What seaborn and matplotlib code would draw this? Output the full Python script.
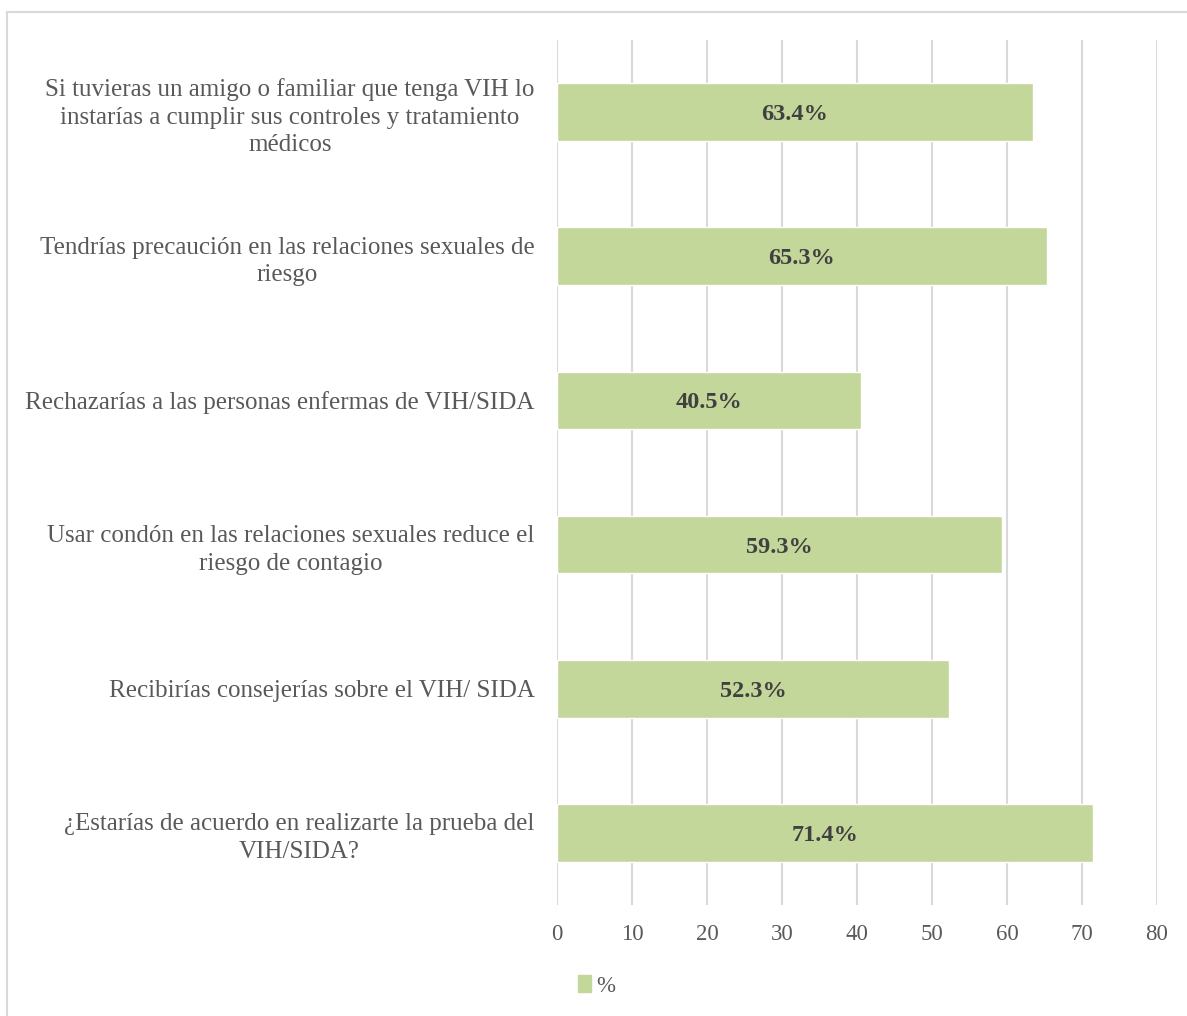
import matplotlib
matplotlib.use("Agg")
import matplotlib.pyplot as plt
import matplotlib.patches as mpatches
import seaborn as sns
import pandas as pd

categories = [
    "Si tuvieras un amigo o familiar que tenga VIH lo\ninstarías a cumplir sus controles y tratamiento\nmédicos",
    "Tendrías precaución en las relaciones sexuales de\nriesgo",
    "Rechazarías a las personas enfermas de VIH/SIDA",
    "Usar condón en las relaciones sexuales reduce el\nriesgo de contagio",
    "Recibirías consejerías sobre el VIH/ SIDA",
    "¿Estarías de acuerdo en realizarte la prueba del\nVIH/SIDA?",
]
values = [63.4, 65.3, 40.5, 59.3, 52.3, 71.4]
series_name = "%"
x_ticks = [0, 10, 20, 30, 40, 50, 60, 70, 80]

bar_color = "#C4D79B"
grid_color = "#D9D9D9"
tick_color = "#595959"
label_color = "#404040"

sns.set_style("white")
plt.rcParams["font.family"] = ["Liberation Serif", "DejaVu Serif"]

df = pd.DataFrame({"cat": categories, "val": values})

fig = plt.figure(figsize=(11.87, 10.16), dpi=100)
ax = fig.add_axes([557 / 1187, 1 - 905 / 1016, 600 / 1187, 865 / 1016])

sns.barplot(data=df, x="val", y="cat", orient="h", color=bar_color,
            width=0.4, saturation=1, ax=ax, zorder=3)

ax.set_xlim(0, 80)
ax.set_ylim(5.5, -0.5)
ax.set_xticks(x_ticks)
ax.set_xticklabels([str(t) for t in x_ticks])
ax.set_xlabel("")
ax.set_ylabel("")

for t in x_ticks:
    ax.axvline(t, color=grid_color, lw=1.5, zorder=1)

for s in ax.spines.values():
    s.set_visible(False)

ax.tick_params(axis="x", length=0, pad=14, labelsize=16.5, labelcolor=tick_color)
ax.tick_params(axis="y", length=0, pad=16, labelsize=18, labelcolor=tick_color)
for lbl in ax.get_yticklabels():
    lbl.set_multialignment("center")
    lbl.set_linespacing(1.33)

for i, v in enumerate(values):
    ax.text(v / 2, i, f"{v}%", ha="center", va="center_baseline", fontsize=17.5,
            fontweight="bold", color=label_color, zorder=4)

handle = mpatches.Patch(color=bar_color, label=series_name)
fig.legend(handles=[handle], loc="center", bbox_to_anchor=(597 / 1187, 1 - 986 / 1016),
           frameon=False, fontsize=16.5, handlelength=0.55, handleheight=0.7,
           handletextpad=0.25, labelcolor=tick_color)

frame = mpatches.Rectangle((7 / 1187, -0.01), 1.2, 1 - 12 / 1016 + 0.01,
                           transform=fig.transFigure, fill=False,
                           edgecolor=grid_color, lw=1.5)
fig.patches.append(frame)

fig.savefig("out.png", dpi=100)
